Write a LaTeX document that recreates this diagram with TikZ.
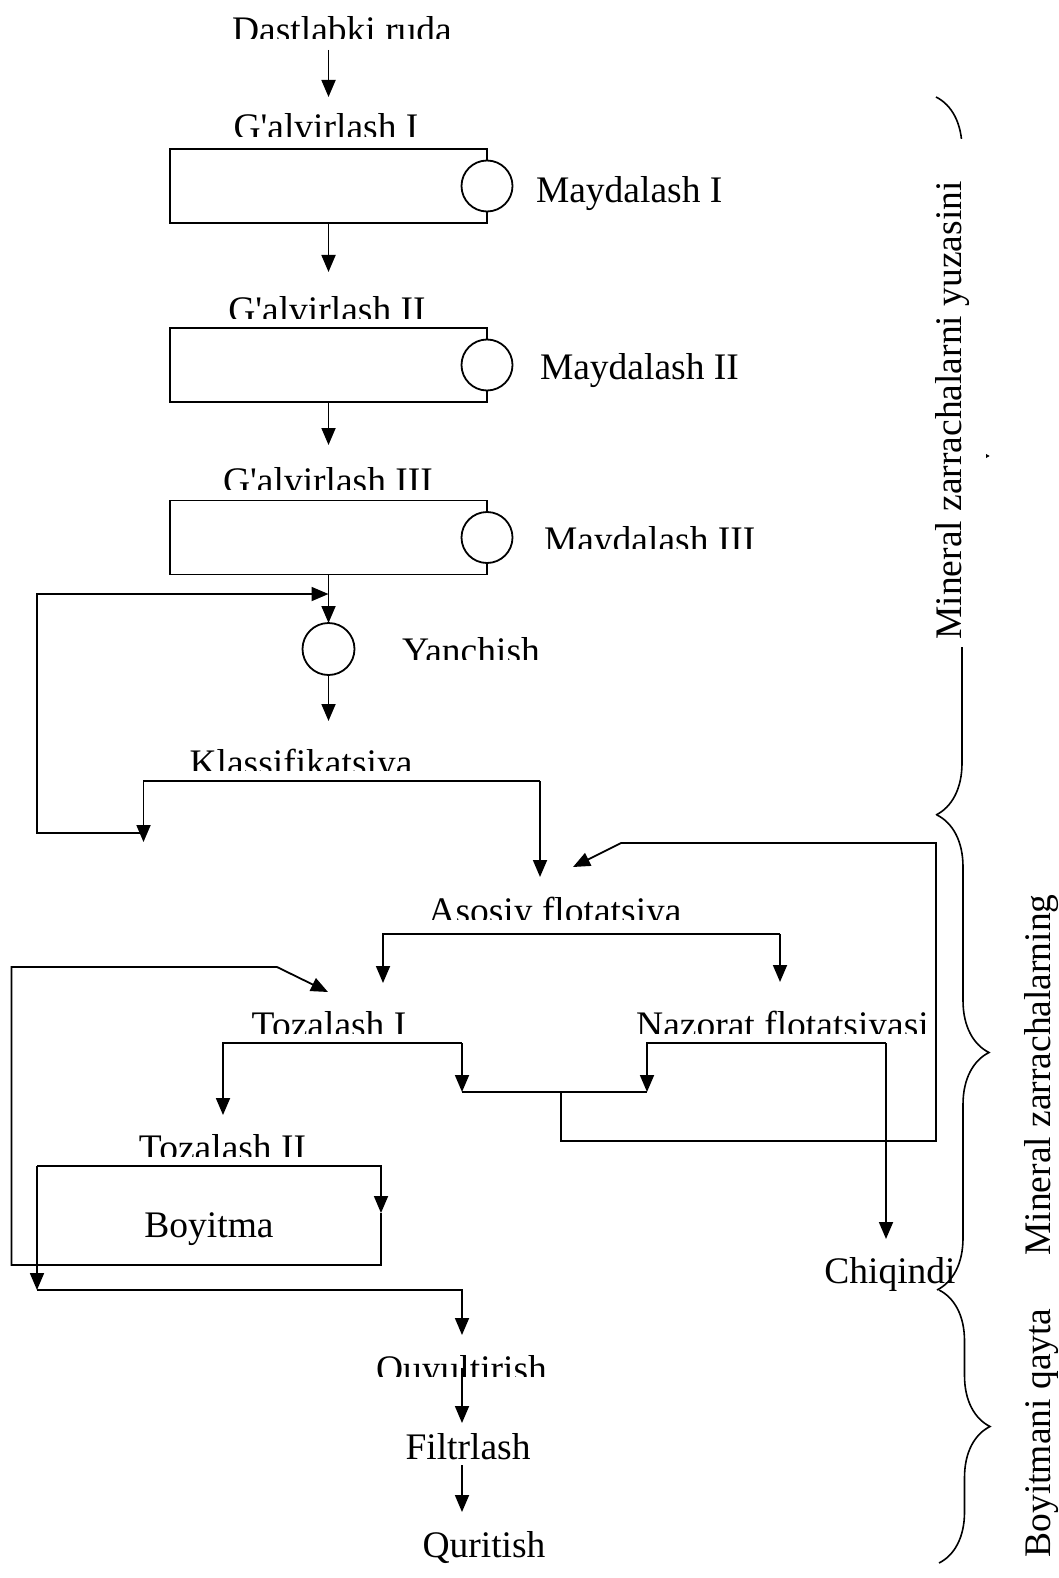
\documentclass[tikz,border=0pt]{standalone}
\usepackage{fontspec}
\newfontfamily\lib{Liberation Serif}
\usetikzlibrary{arrows.meta,decorations.pathreplacing}
\tikzset{
  lbl/.style={font=\lib\fontsize{37.5}{40}\selectfont, inner sep=0pt, outer sep=0pt},
  ln/.style={line width=1.8pt},
  arr/.style={ln, -{Triangle[length=17pt,width=14pt]}},
  boxx/.style={draw, line width=1.8pt, minimum width=317pt, minimum height=74pt, inner sep=0pt, outer sep=0pt},
  circ/.style={draw, fill=white, circle, line width=1.8pt, minimum size=51pt, inner sep=0pt, outer sep=0pt},
  bracee/.style={decorate, decoration={brace, amplitude=52pt}, line width=1.6pt},
}
\newcommand{\cliplabel}[6]{%
  \begin{scope}
    \clip ({#2-300},{#3-60}) rectangle ({#2+300},#4);
    \node[lbl, anchor=#5] (#1) at (#2,#3) {#6};
  \end{scope}}
\begin{document}
\begin{tikzpicture}[x=1pt,y=-1pt]
\useasboundingbox (0,0) rectangle (1058,1578);
\fill[white] (0,0) rectangle (1058,1578);

% ---- top chain ----
\cliplabel{dast}{342}{43}{38.5}{base}{Dastlabki ruda}
\coordinate (d1) at (328.5,50);
\coordinate (g1in) at (328.5,97);
\draw[arr] (d1) -- (g1in);

\cliplabel{gal1}{326}{140}{137}{base}{G'alvirlash I}
\node[boxx] (box1) at (328.5,186) {};
\node[circ] (c1) at (box1.east) {};
\node[lbl, anchor=base west] (may1) at (536,203) {Maydalash I};
\coordinate (g2in) at (328.5,272);
\draw[arr] (box1.south) -- (g2in);

\cliplabel{gal2}{327}{323}{318}{base}{G'alvirlash II}
\node[boxx] (box2) at (328.5,365) {};
\node[circ] (c2) at (box2.east) {};
\node[lbl, anchor=base west] (may2) at (540,379) {Maydalash II};
\coordinate (g3in) at (328.5,445);
\draw[arr] (box2.south) -- (g3in);

\cliplabel{gal3}{328}{493}{489}{base}{G'alvirlash III}
\node[boxx] (box3) at (328.5,537.5) {};
\node[circ] (c3) at (box3.east) {};
\cliplabel{may3}{544}{552}{548}{base west}{Maydalash III}

% ---- Yanchish ----
\node[circ, minimum size=52pt] (cy) at (328.5,649) {};
\cliplabel{yan}{402}{663}{659}{base west}{Yanchish}
\draw[arr] (box3.south) -- (cy.north);
\coordinate (klin) at (328.5,721);
\draw[arr] (cy.south) -- (klin);

% recycle loop to Yanchish
\coordinate (lp1a) at (143.5,833);
\coordinate (lp1b) at (37,833);
\coordinate (lp1c) at (37,594);
\coordinate (lp1d) at (328.5,594);
\draw[arr] (lp1a) -- (lp1b) -- (lp1c) -- (lp1d);

% ---- Klassifikatsiya ----
\cliplabel{klass}{301}{775}{770}{base}{Klassifikatsiya}
\coordinate (kL) at (143.5,781);
\coordinate (kR) at (540,781);
\coordinate (kLd) at (143.5,842);
\coordinate (kRd) at (540,877);
\draw[arr] (kR) -- (kL) -- (kLd);
\draw[arr] (kR) -- (kRd);

% ---- Asosiy flotatsiya ----
\cliplabel{asos}{555}{923}{919}{base}{Asosiy flotatsiya}
\coordinate (aL) at (383,934);
\coordinate (aR) at (780,934);
\coordinate (aLd) at (383,983);
\coordinate (aRd) at (780,982);
\draw[arr] (aR) -- (aL) -- (aLd);
\draw[arr] (aR) -- (aRd);

% ---- Tozalash I / Nazorat ----
\cliplabel{toz1}{329}{1037}{1033}{base}{Tozalash I}
\cliplabel{naz}{782.5}{1037}{1033}{base}{Nazorat flotatsiyasi}
\coordinate (t1L) at (223,1043);
\coordinate (t1R) at (462,1043);
\coordinate (t1Ld) at (223,1115);
\coordinate (t1Rd) at (462,1092);
\draw[arr] (t1R) -- (t1L) -- (t1Ld);
\draw[arr] (t1R) -- (t1Rd);
\coordinate (nL) at (647,1043);
\coordinate (nR) at (886,1043);
\coordinate (nLd) at (647,1092);
\coordinate (nRd) at (886,1239);
\draw[arr] (nR) -- (nL) -- (nLd);
\draw[arr] (nR) -- (nRd);
\draw[ln] (t1Rd) -- (nLd);

% feedback to Asosiy flotatsiya
\coordinate (f1) at (561,1092);
\coordinate (f2) at (561,1141);
\coordinate (f3) at (936,1141);
\coordinate (f4) at (936,843);
\coordinate (f5) at (621,843);
\coordinate (f6) at (573,867);
\draw[arr] (f1) -- (f2) -- (f3) -- (f4) -- (f5) -- (f6);

% ---- Tozalash II / Boyitma ----
\cliplabel{toz2}{222.5}{1160}{1156.5}{base}{Tozalash II}
\node[lbl, anchor=base] (boy) at (209,1237) {Boyitma};
\coordinate (b1) at (37,1166);
\coordinate (b2) at (381,1166);
\coordinate (b3) at (381,1213);
\coordinate (b4) at (381,1265);
\coordinate (b5) at (11.5,1265);
\coordinate (b6) at (11.5,967);
\coordinate (b7) at (277,967);
\coordinate (b8) at (328,992);
\draw[arr] (b1) -- (b2) -- (b3);
\draw[arr] (b3) -- (b4) -- (b5) -- (b6) -- (b7) -- (b8);
\coordinate (b9) at (37,1290);
\coordinate (b10) at (462,1290);
\coordinate (b11) at (462,1335);
\draw[arr] (b1) -- (b9);
\draw[arr] (b9) -- (b10) -- (b11);

\node[lbl, anchor=base] (chiq) at (890,1283) {Chiqindi};

% ---- final chain ----
\cliplabel{quy}{461.5}{1381}{1376}{base}{Quyultirish}
\node[lbl, anchor=base] (filt) at (468,1459) {Filtrlash};
\node[lbl, anchor=base] (qur) at (484,1557) {Quritish};
\coordinate (q1) at (462,1368);
\coordinate (q2) at (462,1423);
\coordinate (q3) at (462,1465);
\coordinate (q4) at (462,1512);
\draw[arr] (q1) -- (q2);
\draw[arr] (q3) -- (q4);

% ---- braces ----
\coordinate (br1a) at (936,97);
\coordinate (br1b) at (936,815);
\coordinate (br2a) at (937,815);
\coordinate (br2b) at (937,1290);
\coordinate (br3a) at (939,1290);
\coordinate (br3b) at (939,1563);
\draw[bracee] (br1a) -- (br1b);
\draw[bracee] (br2a) -- (br2b);
\draw[bracee, decoration={brace, amplitude=51pt}] (br3a) -- (br3b);
\fill[white] (920,139) rectangle (985.5,647);
\node[lbl, rotate=90, anchor=base] (br1txt) at (961,410.5) {Mineral zarrachalarni yuzasini};
\node[lbl, rotate=90, anchor=base] (br2txt) at (1050,1075) {Mineral zarrachalarning};
\node[lbl, rotate=90, anchor=base] (br3txt) at (1050,1433) {Boyitmani qayta};
\end{tikzpicture}
\end{document}
